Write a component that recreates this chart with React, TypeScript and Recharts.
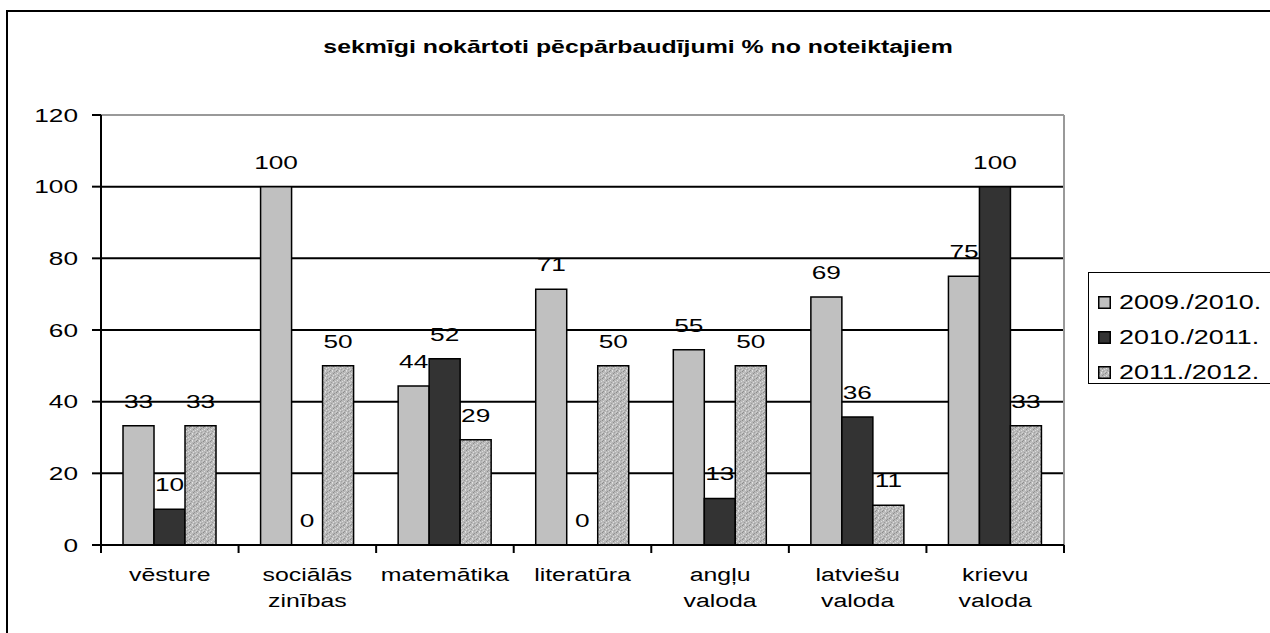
import React from 'react';
import { BarChart, Bar, XAxis, YAxis, CartesianGrid, Legend, LabelList, ReferenceLine } from 'recharts';

const categories = ['vēsture', 'sociālās\nzinības', 'matemātika', 'literatūra', 'angļu\nvaloda', 'latviešu\nvaloda', 'krievu\nvaloda'];
const seriesNames = ['2009./2010.', '2010./2011.', '2011./2012.'];
const values0910 = [33.3, 100, 44.4, 71.4, 54.5, 69.2, 75];
const values1011 = [10, 0, 52, 0, 13, 35.7, 100];
const values1112 = [33.3, 50, 29.4, 50, 50, 11.1, 33.3];
const yTicks = [0, 20, 40, 60, 80, 100, 120];
const title = 'sekmīgi nokārtoti pēcpārbaudījumi % no noteiktajiem';

const data = categories.map((c, i) => ({
    name: c,
    a: values0910[i],
    b: values1011[i],
    c: values1112[i],
}));

const FONT = '"Liberation Sans", Arial, sans-serif';
const STRETCH = 1.38;

const YTick = (props: any) => {
    const { x, y, payload } = props;
    return (
        <text transform={`translate(${x},${y}) scale(${STRETCH},1)`} textAnchor="end" dy={6.5}
            fontFamily={FONT} fontSize={19} fill="#000">
            {payload.value}
        </text>
    );
};

const XTick = (props: any) => {
    const { x, y, payload, index, visibleTicksCount } = props;
    const half = payload.offset ?? 0;
    const lines = String(payload.value).split('\n');
    return (
        <g>
            <line x1={x - half} x2={x - half} y1={y} y2={y + 8} stroke="#000" strokeWidth={2} />
            {index === visibleTicksCount - 1 && (
                <line x1={x + half} x2={x + half} y1={y} y2={y + 8} stroke="#000" strokeWidth={2} />
            )}
            {lines.map((l, i) => (
                <text key={i} transform={`translate(${x},${y + 36 + i * 26}) scale(${STRETCH},1)`}
                    textAnchor="middle" fontFamily={FONT} fontSize={18} fill="#000">
                    {l}
                </text>
            ))}
        </g>
    );
};

const BarLabel = (props: any) => {
    const { x, y, width, value } = props;
    return (
        <text transform={`translate(${x + width / 2},${y - 18}) scale(${STRETCH},1)`} textAnchor="middle"
            fontFamily={FONT} fontSize={19} fill="#000">
            {Math.round(value)}
        </text>
    );
};

const LegendBox = (props: any) => {
    const { payload } = props;
    return (
        <div style={{ border: '1.5px solid #000', height: 112, boxSizing: 'border-box', paddingTop: 12, background: '#fff' }}>
            {payload.map((p: any, i: number) => (
                <div key={i} style={{ display: 'flex', alignItems: 'center', height: 35, marginLeft: 9 }}>
                    <svg width={13} height={13} style={{ flex: 'none' }}>
                        <rect x={0.75} y={0.75} width={11.5} height={11.5} fill={p.color} stroke="#000" strokeWidth={1.5} />
                    </svg>
                    <span style={{ display: 'inline-block', marginLeft: 8, fontFamily: FONT, fontSize: 19.5, transform: `scaleX(${STRETCH})`, transformOrigin: 'left center', whiteSpace: 'nowrap' }}>
                        {p.value}
                    </span>
                </div>
            ))}
        </div>
    );
};

export default function App() {
    return (
        <div>
            <svg width={0} height={0} style={{ position: 'absolute' }}>
                <defs>
                    <pattern id="speckle" width={7} height={7} patternUnits="userSpaceOnUse">
                        <rect width={7} height={7} fill="#b8b8b8" />
                        <rect x={0} y={0} width={1} height={1} fill="#8a8a8a" />
                        <rect x={3} y={0} width={1} height={1} fill="#d8d8d8" />
                        <rect x={5} y={1} width={1} height={1} fill="#969696" />
                        <rect x={1} y={2} width={1} height={1} fill="#e0e0e0" />
                        <rect x={4} y={2} width={1} height={1} fill="#8c8c8c" />
                        <rect x={6} y={3} width={1} height={1} fill="#dadada" />
                        <rect x={2} y={4} width={1} height={1} fill="#9a9a9a" />
                        <rect x={0} y={5} width={1} height={1} fill="#d0d0d0" />
                        <rect x={5} y={5} width={1} height={1} fill="#a2a2a2" />
                        <rect x={3} y={6} width={1} height={1} fill="#e4e4e4" />
                        <rect x={1} y={6} width={1} height={1} fill="#909090" />
                        <rect x={6} y={6} width={1} height={1} fill="#c8c8c8" />
                        <rect x={2} y={1} width={1} height={1} fill="#c4c4c4" />
                        <rect x={4} y={4} width={1} height={1} fill="#dddddd" />
                    </pattern>
                </defs>
            </svg>
            <div style={{ position: 'fixed', left: 6, top: 10, width: 1300, height: 700, border: '2px solid #000', background: '#fff' }} />
            <div style={{ position: 'fixed', left: 0, top: 37, width: 1276, textAlign: 'center' }}>
                <span style={{ display: 'inline-block', fontFamily: FONT, fontWeight: 'bold', fontSize: 18, transform: `scaleX(${STRETCH})`, whiteSpace: 'nowrap' }}>
                    {title}
                </span>
            </div>
            <div style={{ position: 'fixed', left: 0, top: 0 }}>
                <BarChart width={1270} height={633} data={data} margin={{ top: 115, right: 206, left: 0, bottom: 0 }}
                    barCategoryGap="16%" barGap={0}>
                    <CartesianGrid vertical={false} stroke="#000" strokeWidth={2} />
                    <CartesianGrid horizontal={false} stroke="#999" strokeWidth={2}
                        verticalCoordinatesGenerator={({ offset }: any) => [offset.left + offset.width]} />
                    <XAxis dataKey="name" height={88} tickLine={false} tickSize={0} tickMargin={0}
                        axisLine={{ stroke: '#000', strokeWidth: 2 }} tick={<XTick />} interval={0} />
                    <YAxis width={101} domain={[0, 120]} ticks={yTicks} tickSize={9} tickMargin={14}
                        axisLine={{ stroke: '#000', strokeWidth: 2 }} tickLine={{ stroke: '#000', strokeWidth: 2 }}
                        tick={<YTick />} interval={0} />
                    <ReferenceLine y={120} stroke="#999" strokeWidth={2} />
                    <Legend layout="horizontal" verticalAlign="middle" align="center" content={<LegendBox />}
                        wrapperStyle={{ position: 'absolute', left: 1088, top: 272, width: 260, height: 112 }} />
                    <Bar dataKey="a" name={seriesNames[0]} fill="#c0c0c0" stroke="#000" strokeWidth={1.5} minPointSize={0.01} isAnimationActive={false}>
                        <LabelList dataKey="a" content={<BarLabel />} />
                    </Bar>
                    <Bar dataKey="b" name={seriesNames[1]} fill="#333333" stroke="#000" strokeWidth={1.5} minPointSize={0.01} isAnimationActive={false}>
                        <LabelList dataKey="b" content={<BarLabel />} />
                    </Bar>
                    <Bar dataKey="c" name={seriesNames[2]} fill="url(#speckle)" stroke="#000" strokeWidth={1.5} minPointSize={0.01} isAnimationActive={false}>
                        <LabelList dataKey="c" content={<BarLabel />} />
                    </Bar>
                </BarChart>
            </div>
        </div>
    );
}
